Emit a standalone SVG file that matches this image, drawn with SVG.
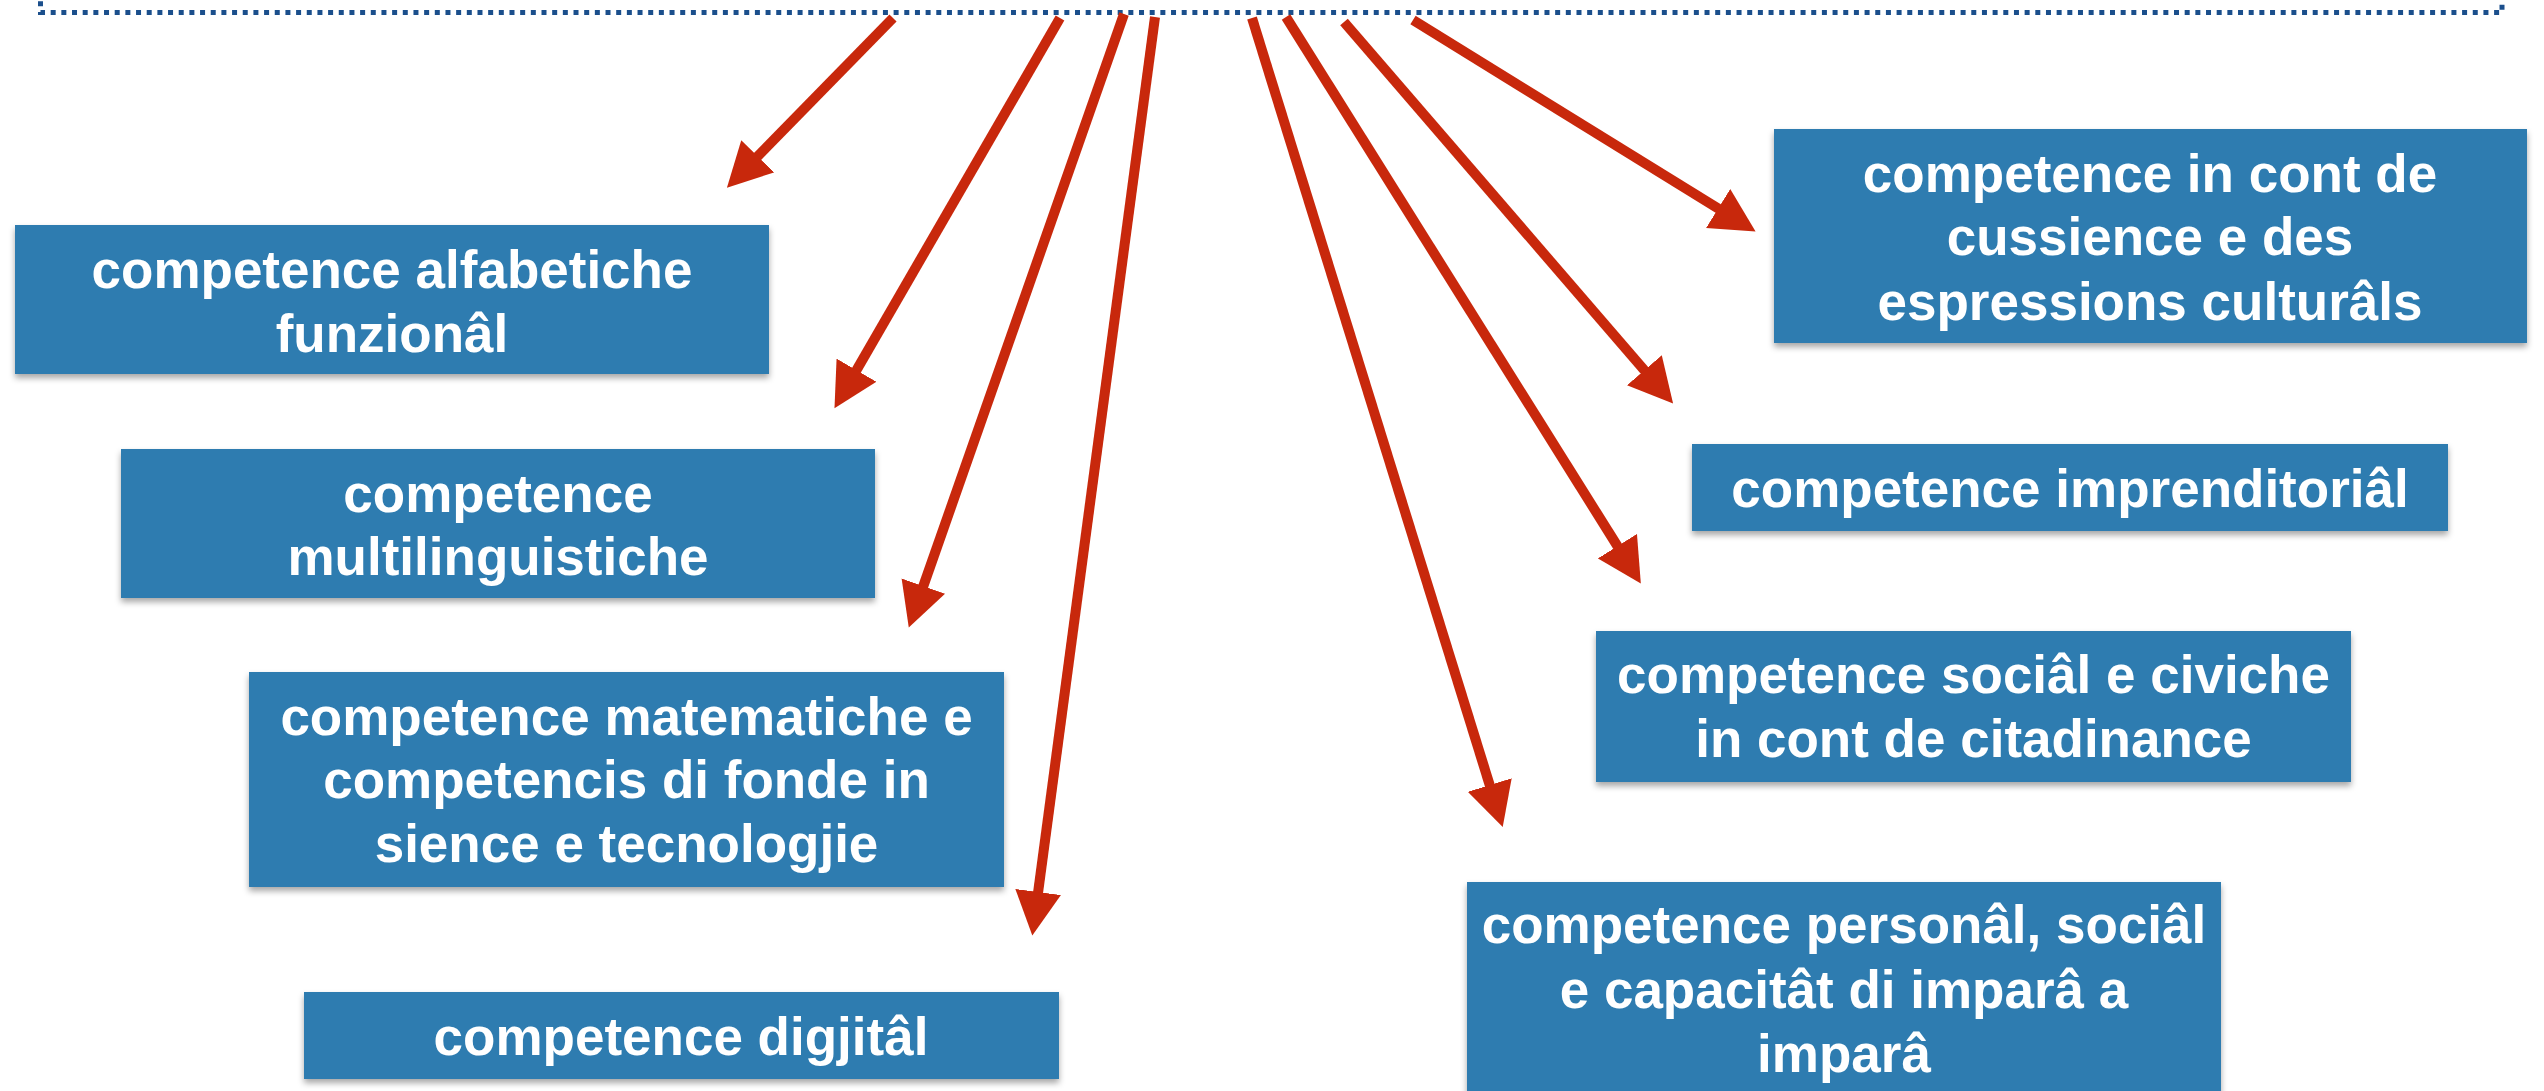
<svg xmlns="http://www.w3.org/2000/svg" width="2544" height="1091" viewBox="0 0 2544 1091">
<style>
.box{fill:#2e7cb0;filter:url(#sh)}
.t{font-family:"Liberation Sans",Arial,sans-serif;font-weight:bold;font-size:53px;fill:#ffffff;text-anchor:middle}
.arr{stroke:#c8280c;stroke-width:10;fill:none;marker-end:url(#ah)}
.frame{stroke:#1b4f8c;stroke-width:5;fill:none;stroke-dasharray:5 5.67}
</style>
<defs>
<filter id="sh" x="-5%" y="-10%" width="110%" height="130%">
<feDropShadow dx="0" dy="4" stdDeviation="3" flood-color="#000" flood-opacity="0.35"/>
</filter>
<marker id="ah" markerUnits="userSpaceOnUse" markerWidth="46" markerHeight="48" viewBox="0 0 46 48" refX="1" refY="24" orient="auto">
<path d="M0,1 L44,24 L0,47 z" fill="#c8280c"/>
</marker>
</defs>
<rect width="2544" height="1091" fill="#ffffff"/>
<path class="frame" d="M40.5,-20 V12.5 H2502 V-20"/>
<g id="connectors">
<line class="arr" x1="893" y1="18" x2="757" y2="157"/>
<line class="arr" x1="1060" y1="18" x2="856" y2="371"/>
<line class="arr" x1="1124" y1="14" x2="923" y2="587"/>
<line class="arr" x1="1155" y1="17" x2="1038" y2="893"/>
<line class="arr" x1="1252" y1="18" x2="1490" y2="786"/>
<line class="arr" x1="1286" y1="17" x2="1618" y2="547"/>
<line class="arr" x1="1344" y1="22" x2="1645" y2="371"/>
<line class="arr" x1="1413" y1="20" x2="1719" y2="209"/>
</g>
<g id="n-alfabetiche">
<rect class="box" x="15" y="225" width="754" height="149"/>
<text class="t" x="392" y="288">competence alfabetiche</text>
<text class="t" x="392" y="352">funzionâl</text>
</g>
<g id="n-multilinguistiche">
<rect class="box" x="121" y="449" width="754" height="149"/>
<text class="t" x="498" y="512">competence</text>
<text class="t" x="498" y="575">multilinguistiche</text>
</g>
<g id="n-matematiche">
<rect class="box" x="249" y="672" width="755" height="215"/>
<text class="t" x="626.5" y="735">competence matematiche e</text>
<text class="t" x="626.5" y="798">competencis di fonde in</text>
<text class="t" x="626.5" y="862">sience e tecnologjie</text>
</g>
<g id="n-digjital">
<rect class="box" x="304" y="992" width="755" height="87"/>
<text class="t" x="681" y="1055">competence digjitâl</text>
</g>
<g id="n-culturals">
<rect class="box" x="1774" y="129" width="753" height="214"/>
<text class="t" x="2150" y="192">competence in cont de</text>
<text class="t" x="2150" y="255">cussience e des</text>
<text class="t" x="2150" y="320">espressions culturâls</text>
</g>
<g id="n-imprenditorial">
<rect class="box" x="1692" y="444" width="756" height="87"/>
<text class="t" x="2070" y="507">competence imprenditoriâl</text>
</g>
<g id="n-social">
<rect class="box" x="1596" y="631" width="755" height="151"/>
<text class="t" x="1973.5" y="693">competence sociâl e civiche</text>
<text class="t" x="1973.5" y="757">in cont de citadinance</text>
</g>
<g id="n-personal">
<rect class="box" x="1467" y="882" width="754" height="220"/>
<text class="t" x="1844" y="943">competence personâl, sociâl</text>
<text class="t" x="1844" y="1008">e capacitât di imparâ a</text>
<text class="t" x="1844" y="1072">imparâ</text>
</g>
</svg>
